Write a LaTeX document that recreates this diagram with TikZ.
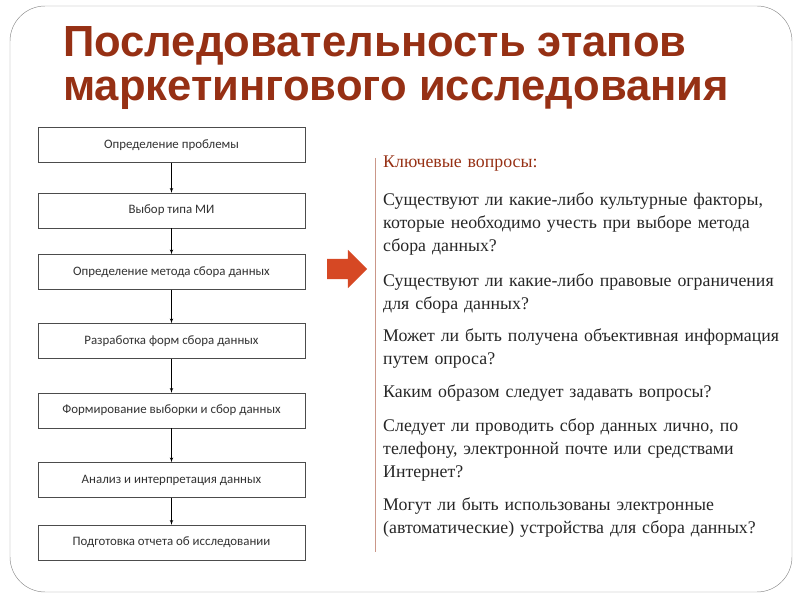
\documentclass[tikz,border=0pt]{standalone}
\usepackage{fontspec}
\setmainfont{Liberation Serif}
\newfontfamily\boxfont{Carlito}
\newfontfamily\titlefont{Liberation Sans}
\usetikzlibrary{shapes,arrows}
\usetikzlibrary{positioning,calc}
\definecolor{titlered}{RGB}{150,48,20}
\definecolor{arrowred}{RGB}{214,72,36}

\begin{document}
\begin{tikzpicture}[x=0.03cm, y=-0.03cm, >=latex']

%local definitions
\tikzstyle{Stage} = [draw=black!70, fill=white, rectangle, minimum width=267*0.03cm, minimum height=35*0.03cm, font=\boxfont\fontsize{11}{13}\selectfont, text=black!80]
\tikzstyle{Question} = [anchor=north west, align=left, text width=400*0.03cm, inner sep=0pt, font=\fontsize{15.2}{19.6}\selectfont, text=black!85]

\useasboundingbox (0,0) rectangle (800,600);
\draw [black!45, rounded corners=30] (10,6) rectangle (792,592);

%title
\node [anchor=west, inner sep=0pt, text=titlered, font=\titlefont\bfseries\fontsize{37.2}{37}\selectfont, align=left] (Title) at (63,68) {Последовательность этапов\\маркетингового исследования};

%main loop
	\node [Stage] (Problem) at (171.5,145) {Определение проблемы};
	\node [Stage] (Type) at (171.5,210.5) {Выбор типа МИ};
	\node [Stage] (Method) at (171.5,272) {Определение метода сбора данных};
	\node [Stage] (Forms) at (171.5,341) {Разработка форм сбора данных};
	\node [Stage] (Sample) at (171.5,410.5) {Формирование выборки и сбор данных};
	\node [Stage] (Analysis) at (171.5,480) {Анализ и интерпретация данных};
	\node [Stage] (Report) at (171.5,542.5) {Подготовка отчета об исследовании};

%connections
	\draw [->] (Problem) -- (Type);
	\draw [->] (Type) -- (Method);
	\draw [->] (Method) -- (Forms);
	\draw [->] (Forms) -- (Sample);
	\draw [->] (Sample) -- (Analysis);
	\draw [->] (Analysis) -- (Report);

	%big arrow
	\node [single arrow, fill=arrowred, minimum height=40*0.03cm, inner xsep=0pt, inner ysep=10*0.03cm, single arrow head extend=9*0.03cm] (Big) at (342,269) {};

	%questions
	\draw [titlered!50, line width=0.8pt] (375,158) -- (375,552);
	\node [Question, text=titlered] (Keys) at (383,156) {Ключевые вопросы:};
	\node [Question] (Q1) at (383,193) {Существуют ли какие-либо культурные факторы, которые необходимо учесть при выборе метода сбора данных?};
	\node [Question] (Q2) at (383,274) {Существуют ли какие-либо правовые ограничения для сбора данных?};
	\node [Question] (Q3) at (383,329) {Может ли быть получена объективная информация путем опроса?};
	\node [Question] (Q4) at (383,385) {Каким образом следует задавать вопросы?};
	\node [Question] (Q5) at (383,419) {Следует ли проводить сбор данных лично, по телефону, электронной почте или средствами Интернет?};
	\node [Question] (Q6) at (383,498) {Могут ли быть использованы электронные (автоматические) устройства для сбора данных?};

\end{tikzpicture}
\end{document}
